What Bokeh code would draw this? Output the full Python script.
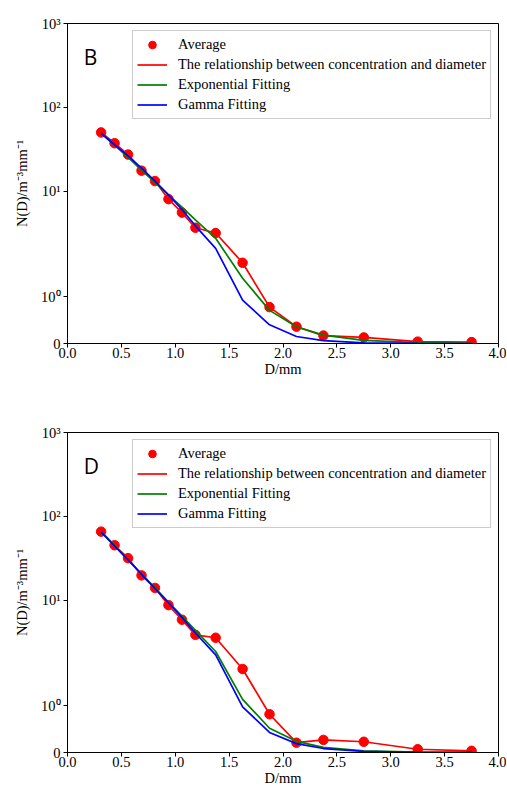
import math
from bokeh.plotting import figure
from bokeh.models import (Range1d, FixedTicker, NumeralTickFormatter, CustomJSTransform,
                          CustomJSTickFormatter, ColumnDataSource, Label)
from bokeh.transform import transform
from bokeh.layouts import column
from bokeh.embed import file_html
from bokeh.resources import INLINE

# ---------------- data ----------------
D = [0.312, 0.437, 0.562, 0.687, 0.812, 0.937, 1.062, 1.187,
     1.375, 1.625, 1.875, 2.125, 2.375, 2.75, 3.25, 3.75]

# panel B
avg_B = [50.5, 37.5, 27.5, 17.7, 13.3, 8.1, 5.6, 3.7,
         3.2, 1.73, 0.78, 0.36, 0.17, 0.13, 0.04, 0.03]
exp_B = [50, 35.6, 25.4, 18.0, 12.8, 9.1, 6.5, 4.6,
         2.77, 1.40, 0.71, 0.36, 0.18, 0.065, 0.017, 0.004]
gam_B = [49, 36, 26.5, 19, 13.3, 9.1, 6.1, 3.9,
         2.1, 0.93, 0.40, 0.15, 0.06, 0.015, 0.003, 0.0005]

# panel D
avg_D = [66, 45.4, 31.9, 19.9, 14.1, 8.8, 5.9, 3.9,
         3.6, 1.79, 0.82, 0.21, 0.27, 0.23, 0.07, 0.036]
exp_D = [66, 44.9, 30.5, 20.7, 14.1, 9.6, 6.5, 4.4,
         2.47, 1.14, 0.52, 0.24, 0.11, 0.035, 0.0075, 0.0016]
gam_D = [65, 44.5, 30.5, 20.5, 13.9, 9.4, 6.3, 4.1,
         2.25, 0.98, 0.43, 0.19, 0.085, 0.025, 0.005, 0.001]

X_TICKS = [0.0, 0.5, 1.0, 1.5, 2.0, 2.5, 3.0, 3.5, 4.0]
Y_TICK_VALUES = [0, 1, 10, 100, 1000]
Y_TICK_LABELS = ["0", "10\u2070", "10\u00b9", "10\u00b2", "10\u00b3"]

LEG_AVG = "Average"
LEG_REL = "The relationship between concentration and diameter"
LEG_EXP = "Exponential Fitting"
LEG_GAM = "Gamma Fitting"

# ---------------- symlog scale (matplotlib style, linthresh=2) ----------------
LINTHRESH = 2.0
LINSCALE = 1.0 / (1.0 - 1.0 / 10.0)


def symlog(v):
    av = abs(v)
    if av <= LINTHRESH:
        return v * LINSCALE
    return math.copysign(LINTHRESH * (LINSCALE + math.log10(av / LINTHRESH)), v)


symlog_js = CustomJSTransform(
    args=dict(c=LINTHRESH, a=LINSCALE),
    func="""
        const av = Math.abs(x);
        if (av <= c) return x * a;
        return Math.sign(x) * c * (a + Math.log10(av / c));
    """,
    v_func="""
        const out = new Float64Array(xs.length);
        for (let i = 0; i < xs.length; i++) {
            const v = xs[i];
            const av = Math.abs(v);
            out[i] = (av <= c) ? v * a : Math.sign(v) * c * (a + Math.log10(av / c));
        }
        return out;
    """,
)

SERIF = "Liberation Serif"
FS = "14.5px"
Y_TOP = symlog(1000)


def make_panel(letter, avg, expo, gam, height, b_top, b_bottom):
    frame_h = height - b_top - b_bottom
    p = figure(width=506, height=height, output_backend="svg", toolbar_location=None,
               x_range=Range1d(0, 4), y_range=Range1d(0, Y_TOP),
               min_border_left=67, min_border_right=8,
               min_border_top=b_top, min_border_bottom=b_bottom)
    src = ColumnDataSource(dict(D=D, avg=avg, expo=expo, gam=gam))

    p.scatter(x="D", y=transform("avg", symlog_js), source=src, size=9.5,
              fill_color="#ff0000", line_color="#ff0000", legend_label=LEG_AVG)
    p.line(x="D", y=transform("avg", symlog_js), source=src, line_color="#ff0000",
           line_width=1.7, legend_label=LEG_REL)
    p.line(x="D", y=transform("expo", symlog_js), source=src, line_color="#008000",
           line_width=1.7, legend_label=LEG_EXP)
    p.line(x="D", y=transform("gam", symlog_js), source=src, line_color="#0000ff",
           line_width=1.7, legend_label=LEG_GAM)

    p.xgrid.visible = False
    p.ygrid.visible = False
    p.outline_line_color = "black"
    p.outline_line_alpha = 1.0
    p.outline_line_width = 1
    p.background_fill_color = "white"
    p.border_fill_color = "white"

    p.xaxis.ticker = FixedTicker(ticks=X_TICKS)
    p.xaxis.formatter = NumeralTickFormatter(format="0.0")
    p.xaxis.axis_label = "D/mm"
    p.yaxis.ticker = FixedTicker(ticks=[symlog(v) for v in Y_TICK_VALUES])
    p.yaxis.formatter = CustomJSTickFormatter(args=dict(labels=Y_TICK_LABELS),
                                              code="return labels[index];")
    p.yaxis.axis_label = "N(D)/m\u207b\u00b3mm\u207b\u00b9"

    for ax in (p.xaxis[0], p.yaxis[0]):
        ax.minor_tick_line_color = None
        ax.major_tick_in = 0
        ax.major_tick_out = 4
        ax.major_tick_line_color = "black"
        ax.axis_line_color = "black"
        ax.major_label_text_font = SERIF
        ax.major_label_text_font_size = FS
        ax.major_label_text_color = "black"
        ax.axis_label_text_font = SERIF
        ax.axis_label_text_font_size = FS
        ax.axis_label_text_font_style = "normal"
        ax.axis_label_text_color = "black"
    p.xaxis.major_label_standoff = 0
    p.xaxis.axis_label_standoff = 0
    p.yaxis.major_label_standoff = 3
    p.yaxis.axis_label_standoff = 8

    lg = p.legend[0]
    lg.location = "top_right"
    lg.margin = 7
    lg.padding = 4
    lg.spacing = 1
    lg.glyph_width = 30
    lg.glyph_height = 19
    lg.label_height = 19
    lg.label_standoff = 11
    lg.label_text_font = SERIF
    lg.label_text_font_size = FS
    lg.label_text_color = "black"
    lg.border_line_color = "#cccccc"
    lg.border_line_width = 1
    lg.border_line_alpha = 1.0
    lg.background_fill_alpha = 0.8

    p.add_layout(Label(x=0.15, y=Y_TOP - 33 * Y_TOP / frame_h, text=letter,
                       text_font="Open Sans", text_font_size="21px",
                       text_baseline="alphabetic", text_color="black"))
    return p


p1 = make_panel("B", avg_B, exp_B, gam_B, 410, 23, 67)
p2 = make_panel("D", avg_D, exp_D, gam_D, 384, 22, 42)

layout = column(p1, p2)
open("out.html", "w").write(file_html(layout, INLINE))
